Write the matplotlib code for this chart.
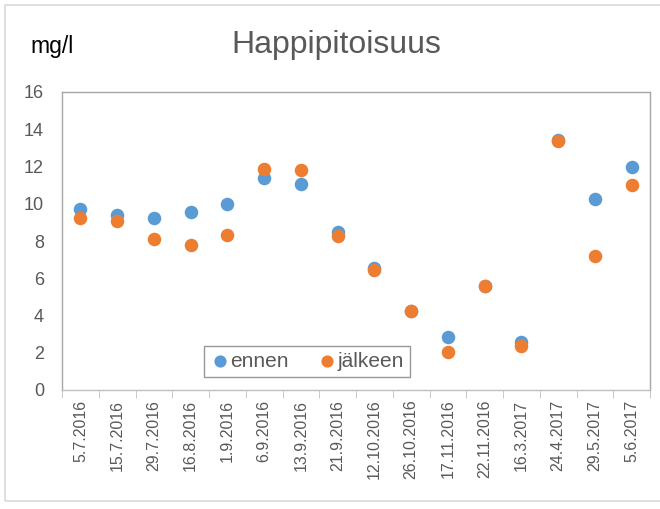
import matplotlib
matplotlib.use("Agg")
import matplotlib.pyplot as plt
from matplotlib.patches import Rectangle

dates = ["5.7.2016", "15.7.2016", "29.7.2016", "16.8.2016", "1.9.2016",
         "6.9.2016", "13.9.2016", "21.9.2016", "12.10.2016", "26.10.2016",
         "17.11.2016", "22.11.2016", "16.3.2017", "24.4.2017", "29.5.2017",
         "5.6.2017"]
ennen = [9.73, 9.42, 9.26, 9.55, 10.0, 11.37, 11.07, 8.48, 6.57, 4.24,
         2.82, 5.56, 2.56, 13.43, 10.25, 12.0]
jalkeen = [9.26, 9.06, 8.12, 7.78, 8.30, 11.86, 11.8, 8.25, 6.46, 4.24,
           2.02, 5.56, 2.35, 13.36, 7.17, 11.03]
yticks = [0, 2, 4, 6, 8, 10, 12, 14, 16]

plt.rcParams["font.family"] = ["Liberation Sans", "DejaVu Sans"]
GRAY = "#595959"
BLUE = "#5B9BD5"
ORANGE = "#ED7D31"

fig = plt.figure(figsize=(6.6, 5.09), dpi=100)
fig.patches.append(Rectangle((5 / 660, 8 / 509), 1, 1 - 8 / 509 - 5 / 509,
                             transform=fig.transFigure, fill=False,
                             edgecolor="#D9D9D9", linewidth=1.2))

ax = fig.add_axes([62 / 660, 1 - 390 / 509, (650 - 62) / 660, (390 - 92) / 509])
x = list(range(len(dates)))
ax.scatter(x, ennen, s=95, color=BLUE, label="ennen", zorder=3, linewidths=0)
ax.scatter(x, jalkeen, s=95, color=ORANGE, label="jälkeen", zorder=4, linewidths=0)

ax.set_xlim(-0.5, len(dates) - 0.5)
ax.set_ylim(0, 16)
ax.set_yticks(yticks)
ax.set_yticklabels([str(v) for v in yticks], fontsize=13, color=GRAY)
ax.tick_params(axis="y", length=0, pad=13)

ax.set_xticks(x)
ax.set_xticklabels(dates, rotation=90, fontsize=11.5, color=GRAY)
ax.tick_params(axis="x", which="major", length=0, pad=7)
ax.set_xticks([i - 0.5 for i in range(len(dates) + 1)], minor=True)
ax.tick_params(axis="x", which="minor", length=6, color="#BFBFBF", direction="out")

for s in ax.spines.values():
    s.set_color("#A6A6A6")
    s.set_linewidth(1.0)
ax.spines["bottom"].set_color("#BFBFBF")

leg = ax.legend(loc="lower left", bbox_to_anchor=((204 - 62) / 588, (390 - 377) / 298),
                ncol=2, fontsize=15, frameon=True, fancybox=False,
                handlelength=0.9, handletextpad=0.05, columnspacing=1.4,
                borderpad=0.3, borderaxespad=0, markerscale=0.9)
leg.get_frame().set_edgecolor("#7F7F7F")
leg.get_frame().set_linewidth(1.0)
for t in leg.get_texts():
    t.set_color(GRAY)

fig.text(336 / 660, 1 - 45 / 509, "Happipitoisuus", fontsize=23, color=GRAY,
         ha="center", va="center")
fig.text(30 / 660, 1 - 47 / 509, "mg/l", fontsize=16.5, color="black",
         ha="left", va="center")

fig.savefig("out.png", dpi=100)
